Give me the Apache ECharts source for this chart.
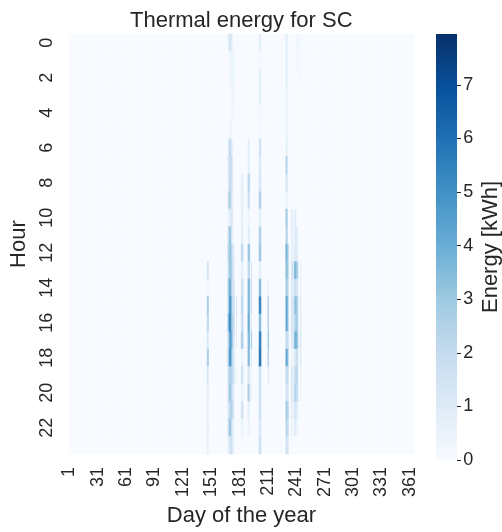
<!DOCTYPE html>
<html>
<head>
<meta charset="utf-8">
<script src="https://cdn.jsdelivr.net/npm/echarts@6/dist/echarts.min.js"></script>
<style>html,body{margin:0;padding:0;background:#fff}#c{width:502px;height:532px}</style>
</head>
<body>
<div id="c"></div>
<script>
// Categories
const dayLabels = [];
for (let d = 1; d <= 365; d++) dayLabels.push(String(d));
const hourLabels = ['0','1','2','3','4','5','6','7','8','9','10','11','12','13','14','15','16','17','18','19','20','21','22','23'];
const colorbarTicks = [0, 1, 2, 3, 4, 5, 6, 7];

// Energy per hour (0..23) for days with non-zero values; all other days are 0
const day147 = [0,0,0,0,0,0,0,0,0,0,0,0,0,1,0.3,2,1.5,1,2,1,0.5,0.5,0.5,0.5];
const day148 = [0,0,0,0,0,0,0,0,0,0,0,0,0,2,0.5,3.5,3,1.5,3.5,1.5,1,0.8,1,0.8];
const day169 = [0.5,0,0,0,0,0,0.5,1,0.5,1.5,0.5,1.5,2,1.5,2.5,2,3,2,2.5,1.5,1.5,1,1.5,0.5];
const day170 = [1,0,0,0,0,0,1,1.5,1,2,0.5,2,2.5,2,3,3,4,2.5,3,2,2,1.5,2,1];
const day171 = [1.5,0.3,0.3,0,0,0.5,2.5,2,2.5,3,1,3.5,3,3.5,4.5,5.5,6,5,5.5,3,3.5,2.5,3.5,1.5];
const day172 = [1.5,0.5,0.5,0.3,0,0.3,2,2,2,2.5,1,3,3.5,3,4,5,5,4.5,5,2.5,3,2,3,1.5];
const day173 = [0.8,0.5,0.5,0.3,0.3,0.3,1,2,1.5,1,1.5,1,2,2.5,2,3,3,4,3,2.5,2,3,1.5,2];
const day174 = [0.5,0.5,0.5,0.3,0.3,0,0.5,1,1,0.5,1,0.5,1.5,1.5,1.5,2,2.5,2.5,2,2,1.5,2,1,1];
const day175 = [0,0.5,0.5,0.5,0.3,0,0,0,0,0,0,0,1,1,1.5,1.5,2,1.5,1,1.5,1,1,0.5,0.5];
const day176 = [0,0.3,0.3,0.3,0,0,0,0,0,0,0,0,0.5,0.5,1,1.5,1.5,1,1,1,0.5,0.5,0,0];
const day178 = [0,0,0,0,0,0,0,0,0,0,0,0,0,0,0,1.5,1,1,0,0.5,0,0,0,0];
const day183 = [0,0,0,0,0,0,0,0,0.5,0.5,0.5,0.5,1.5,0.5,1,1.5,1,2,0.3,1,0.3,1,0.3,0];
const day184 = [0,0,0,0,0,0,0,0,1,1,0.8,1,2.5,1,2,2.5,2,3,0.5,2,0.5,2,0.5,0];
const day185 = [0,0,0,0,0,0,0,0,0.5,0.5,0.3,0.5,1.5,0.5,1.5,1.5,1.5,2,0.3,1,0.3,1,0.3,0];
const day190 = [0,0,0,0,0,0,0.5,0.5,1.5,1,0.3,0.5,2,1.5,2.5,2.5,3,2.5,2.5,1,2,0.5,0.3,0];
const day191 = [0,0,0,0,0,0,1,1,2.5,2,0.5,1,3.5,2.5,4,4,4.5,4,4,1.5,3,1,0.5,0];
const day192 = [0,0,0,0,0,0,0.5,0.5,2,1.5,0.3,1,3,2,3.5,3.5,3.5,3.5,3,1,2,0.5,0.3,0];
const day194 = [0,0,0,0,0,0,0,0,0,0,0,0,0,1.5,2,2,1,3,1,0.5,0.5,0,0,0];
const day202 = [0.5,0,0.5,0.5,0,0,1,1,1,2,0.5,2,2.5,0.5,3,4.5,3,4.5,5,1.5,1.5,1.5,1,1.5];
const day203 = [1,0.3,0.8,0.8,0.3,0.3,2,1.5,1.5,3,1,3,3.5,1,4,6.5,4,6.5,7,2,2,2,1.5,2];
const day204 = [0.5,0.3,0.5,0.5,0.3,0,1,0.5,1,1.5,0.5,1.5,2,0.5,2,3.5,2,4,4,1,1,1,1,1];
const day211 = [0,0,0,0,0,0,0,0,0,0,0,0,0,0,0.3,1.5,1.5,2,1.5,0.5,0,0,0,0];
const day212 = [0,0,0,0,0,0,0,0,0,0,0,0,0,0,0.5,2.5,2.5,3,2.5,1,0,0,0,0];
const day230 = [0.5,0.5,0.5,0.3,0.3,0.3,0.5,1.5,1,0.3,2,1.5,3,2.5,2,3,3,1.5,3,1.5,1,2,1.5,1];
const day231 = [0.8,0.8,0.8,0.5,0.5,0.5,0.7,2.5,1.5,0.5,3,2.5,4,3.5,3,4.5,4.5,2,4.5,2,1.5,3,2.5,1.5];
const day232 = [0.5,0.5,0.5,0.3,0.3,0.3,0.5,1.5,1,0.3,2,2,3,3,2.5,3.5,3.5,2,3.5,2,1.5,2.5,2,1.5];
const day233 = [0,0,0,0,0,0,0,0,0,0,0,0,2,2,1.5,2,2,1.5,2,1.5,1,2,1.5,1];
const day236 = [0,0,0,0,0,0,0,0,0,0,0.5,0.5,0.5,1,1,1,1,1,0.3,1,1,0.5,0.3,0];
const day237 = [0,0,0,0,0,0,0,0,0,0,1,1,1,2,1.5,2,2,1.5,0.5,1.5,1.5,1,0.5,0];
const day239 = [0,0,0,0,0,0,0,0,0,0,0.5,0.5,1,3,1.5,2.5,2,3,1,1.5,2,1,0.5,0];
const day240 = [0,0,0,0,0,0,0,0,0,0,1,1,1,4,2,3.5,2.5,4,1,2,2.5,1.5,1,0];
const day241 = [0,0,0,0,0,0,0,0,0,0,0.5,1,1,3,1.5,3,2.5,3.5,1.5,2,2,1,0.5,0];
const day242 = [0.5,0.3,0,0,0,0,0,0,0,0,0,1,1,3,1.5,3,3,3.5,2,2.5,2,1,0.5,0];
const day243 = [0.5,0.3,0,0,0,0,0,0,0,0,0,0.5,0.5,2,1,2,2,2.5,1.5,1.5,1.5,0.5,0.3,0];
const day246 = [0.5,0.5,0.3,0,0,0,0,0,0,0,0,0,0,1,1,1.5,1.5,2,1.5,1,0.5,0,0,0];

const activeDays = [
  [147, day147], [148, day148], [169, day169], [170, day170], [171, day171],
  [172, day172], [173, day173], [174, day174], [175, day175], [176, day176],
  [178, day178], [183, day183], [184, day184], [185, day185], [190, day190],
  [191, day191], [192, day192], [194, day194], [202, day202], [203, day203],
  [204, day204], [211, day211], [212, day212], [230, day230], [231, day231],
  [232, day232], [233, day233], [236, day236], [237, day237], [239, day239],
  [240, day240], [241, day241], [242, day242], [243, day243], [246, day246]
];

const lookup = {};
activeDays.forEach(([d, arr]) => { lookup[d] = arr; });
const data = [];
for (let i = 0; i < dayLabels.length; i++) {
  const arr = lookup[i + 1];
  for (let h = 0; h < 24; h++) {
    data.push([i, h, arr ? arr[h] : 0]);
  }
}

const FONT = 'Liberation Sans, Arial, sans-serif';
const TXT = '#262626';
const blues = ['#f7fbff','#deebf7','#c6dbef','#9ecae1','#6baed6','#4292c6','#2171b5','#08519c','#08306b'];
const VMAX = 7.95;

const stops = blues.map((c, i) => ({offset: i / (blues.length - 1), color: c}));

const chart = echarts.init(document.getElementById('c'), null, {renderer: 'canvas'});
chart.setOption({
  animation: false,
  backgroundColor: '#ffffff',
  textStyle: {fontFamily: FONT},
  title: {
    text: 'Thermal energy for SC',
    left: 125, top: 5,
    textStyle: {fontFamily: FONT, fontSize: 22, fontWeight: 'normal', color: TXT}
  },
  grid: [
    {left: 66, top: 34, width: 348, height: 426},
    {left: 457, top: 34, width: 1, height: 426}
  ],
  graphic: [{
    type: 'rect', silent: true, z: 0,
    shape: {x: 436, y: 34, width: 21, height: 426},
    style: {fill: new echarts.graphic.LinearGradient(0, 1, 0, 0, stops)}
  }],
  xAxis: [
    {
      type: 'category', gridIndex: 0, data: dayLabels,
      axisLine: {show: false}, axisTick: {show: false}, splitLine: {show: false},
      axisLabel: {interval: 29, rotate: 90, margin: 13, fontSize: 18, color: TXT, fontFamily: FONT},
      name: 'Day of the year', nameLocation: 'middle', nameGap: 46,
      nameTextStyle: {fontSize: 22, color: TXT, fontFamily: FONT}
    },
    {type: 'value', gridIndex: 1, show: false, min: 0, max: 1}
  ],
  yAxis: [
    {
      type: 'category', gridIndex: 0, data: hourLabels, inverse: true,
      axisLine: {show: false}, axisTick: {show: false}, splitLine: {show: false},
      axisLabel: {interval: 1, rotate: 90, margin: 13, fontSize: 18, color: TXT, fontFamily: FONT},
      name: 'Hour', nameLocation: 'middle', nameGap: 33,
      nameTextStyle: {fontSize: 22, color: TXT, fontFamily: FONT}
    },
    {
      type: 'value', gridIndex: 1, position: 'right', min: 0, max: VMAX,
      axisLine: {show: false}, splitLine: {show: false},
      axisTick: {show: true, inside: false, length: 4, lineStyle: {color: TXT, width: 1}, customValues: colorbarTicks},
      axisLabel: {margin: 6, fontSize: 18, color: TXT, fontFamily: FONT, customValues: colorbarTicks},
      name: 'Energy [kWh]', nameLocation: 'middle', nameGap: 23,
      nameTextStyle: {fontSize: 22, color: TXT, fontFamily: FONT}
    }
  ],
  visualMap: {
    show: false, type: 'continuous', min: 0, max: VMAX,
    seriesIndex: 0, inRange: {color: blues}
  },
  series: [{
    type: 'heatmap', xAxisIndex: 0, yAxisIndex: 0, data: data,
    progressive: 0, emphasis: {disabled: true}
  }]
});
</script>
</body>
</html>
